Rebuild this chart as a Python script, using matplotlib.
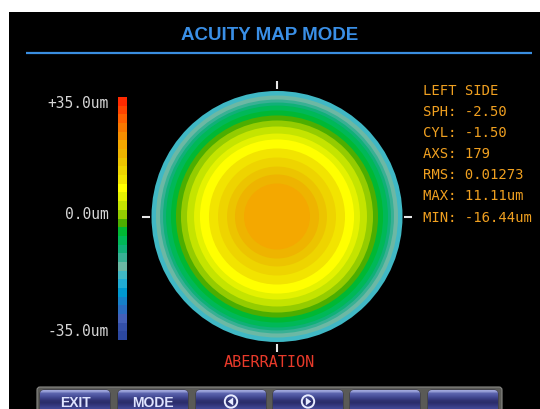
import numpy as np
import matplotlib
matplotlib.use("Agg")
import matplotlib.pyplot as plt
from matplotlib.colors import ListedColormap, BoundaryNorm
from matplotlib.patches import Circle, Rectangle, FancyBboxPatch, Polygon
import matplotlib.colorbar as mcolorbar

# ---------------- data ----------------
# colour scale levels (um), bottom (-35) to top (+35)
scale_min, scale_max, scale_step = -35.0, 35.0, 2.5
level_colors = [
    "#2c48a0", "#3450a8", "#4460b8", "#2a6cc0", "#1680c8", "#0098d0", "#20acd4",
    "#40b8c4", "#6cb8a4", "#38b094", "#10b078", "#00b858", "#00b834", "#4cae00",
    "#94cc00", "#c4e400", "#e4f200", "#ffff00", "#f2e400", "#eed400", "#ecc400",
    "#eeb400", "#f4a800", "#f58e00", "#f87800", "#ff6000", "#ff4400", "#ff2a00",
]
colorbar_tick_labels = ["+35.0um", "0.0um", "-35.0um"]

# aberration map: concentric zones (outer radius, normalised pupil) and value (um)
ring_outer_radius = [0.263, 0.335, 0.398, 0.470, 0.542, 0.614, 0.661, 0.717,
                     0.765, 0.805, 0.845, 0.884, 0.908, 0.932, 0.964, 1.000]
ring_value_um = [21.2, 18.8, 16.2, 13.8, 11.2, 8.8, 6.2, 3.8,
                 1.2, -1.2, -3.8, -6.2, -8.8, -11.2, -13.8, -16.2]

info_labels = ["LEFT SIDE", "SPH", "CYL", "AXS", "RMS", "MAX", "MIN"]
info_values = ["", "-2.50", "-1.50", "179", "0.01273", "11.11um", "-16.44um"]
button_labels = ["EXIT", "MODE", "<", ">", "", ""]

title = "ACUITY MAP MODE"
map_caption = "ABERRATION"

# ---------------- figure ----------------
W, H = 540, 410
fig = plt.figure(figsize=(W / 100, H / 100), dpi=100)
fig.patch.set_facecolor("white")

bg = fig.add_axes([0, 0, 1, 1])
bg.set_xlim(0, W)
bg.set_ylim(H, 0)
bg.axis("off")

bg.add_patch(Rectangle((9, 13), W - 9, H - 13, facecolor="black", edgecolor="none"))

bg.text(270, 35.5, title, color="#3a8fe6", fontsize=13.5, fontweight="bold",
        family="Liberation Sans", ha="center", va="center")
bg.plot([26, 532], [54, 54], color="#3a8ee0", lw=1.6, solid_capstyle="butt")

mono = "DejaVu Sans Mono"

# colour bar labels
for lab, y in zip(colorbar_tick_labels, [103, 215, 332]):
    bg.text(109, y, lab, color="#d6d6d6", fontsize=10.5, family=mono,
            ha="right", va="center")

# info block
for i, (lab, val) in enumerate(zip(info_labels, info_values)):
    s = lab if val == "" else f"{lab}: {val}"
    bg.text(423, 91 + i * 21.1, s, color="#f0a020", fontsize=10, family=mono,
            ha="left", va="center")

bg.text(269, 363, map_caption, color="#e83a2a", fontsize=11, family=mono,
        ha="center", va="center")

# button bar
frame = FancyBboxPatch((37, 388), 465, 30, boxstyle="round,pad=0,rounding_size=3",
                       facecolor="#5a5a56", edgecolor="#8a8a86", lw=0.8)
bg.add_patch(frame)
btn_x = [(40, 110), (118, 188), (196, 266), (273, 343), (350, 420), (428, 498)]
grad_cols = np.array([
    [0.62, 0.65, 0.86], [0.36, 0.39, 0.68], [0.30, 0.33, 0.62], [0.24, 0.26, 0.54],
    [0.19, 0.20, 0.45], [0.17, 0.18, 0.42], [0.20, 0.21, 0.48], [0.24, 0.26, 0.55],
    [0.27, 0.29, 0.60], [0.27, 0.29, 0.60],
])
grad = grad_cols[:, None, :]
for (x0, x1), lab in zip(btn_x, button_labels):
    patch = FancyBboxPatch((x0, 391), x1 - x0, 28, boxstyle="round,pad=0,rounding_size=4",
                           facecolor="none", edgecolor="#2a2a40", lw=0.6)
    bg.add_patch(patch)
    im = bg.imshow(grad, extent=(x0, x1, 414, 391), interpolation="bilinear", zorder=2)
    im.set_clip_path(patch)
    cx = (x0 + x1) / 2
    if lab in ("<", ">"):
        bg.add_patch(Circle((cx, 402.5), 6.2, facecolor="none", edgecolor="#e8ecff",
                            lw=1.4, zorder=3))
        d = -1 if lab == "<" else 1
        tri = [(cx + 3.2 * d, 402.5), (cx - 2.2 * d, 398.5), (cx - 2.2 * d, 406.5)]
        bg.add_patch(Polygon(tri, closed=True, facecolor="#e8ecff", edgecolor="none",
                             zorder=3))
    elif lab:
        bg.text(cx, 403, lab, color="#dfe4ff", fontsize=10, fontweight="bold",
                family="Liberation Sans", ha="center", va="center", zorder=3)
bg.set_xlim(0, W)
bg.set_ylim(H, 0)
bg.set_aspect("auto")

# ---------------- colour scale ----------------
levels = np.arange(scale_min, scale_max + scale_step / 2, scale_step)
cmap = ListedColormap(level_colors)
norm = BoundaryNorm(levels, cmap.N)

cax = fig.add_axes([118 / W, (H - 341) / H, 9 / W, 243 / H])
cb = mcolorbar.ColorbarBase(cax, cmap=cmap, norm=norm, orientation="vertical")
cb.outline.set_visible(False)
cax.set_yticks([])
cb.minorticks_off()

# ---------------- aberration map ----------------
cxp, cyp, rpx = 277, 217.5, 125.5
lim = 1.12
half = lim * rpx
ax = fig.add_axes([(cxp - half) / W, (H - cyp - half) / H, 2 * half / W, 2 * half / H])
ax.set_xlim(-lim, lim)
ax.set_ylim(-lim, lim)
ax.set_aspect("equal")
ax.axis("off")
ax.patch.set_alpha(0)

for r, v in sorted(zip(ring_outer_radius, ring_value_um), reverse=True):
    ax.add_patch(Circle((0, 0), r, facecolor=cmap(norm(v)), edgecolor="none"))

tick_c = "#e6e6e6"
for dx, dy in [(0, 1), (0, -1), (1, 0), (-1, 0)]:
    ax.plot([dx * 1.012, dx * 1.078], [dy * 1.012, dy * 1.078], color=tick_c, lw=1.5,
            solid_capstyle="butt")

fig.savefig("out.png", dpi=100, facecolor=fig.get_facecolor())
